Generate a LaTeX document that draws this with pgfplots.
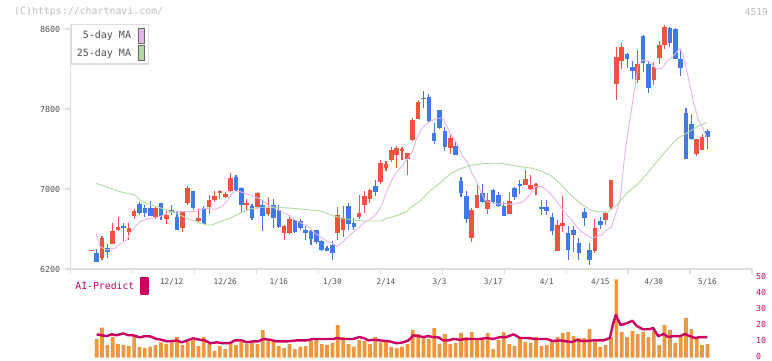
\documentclass[border=0pt]{standalone}
\usepackage{fontspec}
\setmainfont{DejaVu Sans Mono}
\usepackage{pgfplots}
\usepackage{pgfplotstable}
\pgfplotsset{compat=1.18}
\definecolor{cred}{RGB}{239,83,64}
\definecolor{cblue}{RGB}{64,122,232}
\definecolor{ma5}{RGB}{232,180,236}
\definecolor{ma25}{RGB}{178,218,160}
\definecolor{volc}{RGB}{240,150,62}
\definecolor{aic}{RGB}{204,0,96}
\definecolor{axg}{RGB}{222,222,222}
\definecolor{labg}{RGB}{80,80,80}
\definecolor{cpg}{RGB}{190,190,190}

% up (red) candles: x low high bodybottom bodytop
\pgfplotstableread{
x l h b t
0 6380 6390 6380 6390
2 6293 6530 6313 6510
4 6450 6660 6450 6580
5 6580 6720 6590 6620
7 6490 6660 6570 6610
8 6700 6800 6730 6780
12 6700 6820 6720 6810
14 6650 6780 6700 6740
17 6570 6780 6610 6780
18 6840 7030 6860 7010
20 6670 6800 6680 6710
22 6750 6940 6820 6890
23 6870 6980 6890 6930
24 6900 6990 6960 6980
25 6910 6970 6920 6950
26 6970 7160 6980 7110
29 6790 6900 6840 6860
31 6800 6970 6820 6960
33 6730 6920 6750 6810
36 6490 6640 6560 6630
37 6550 6740 6560 6700
46 6490 6820 6560 6740
47 6520 6830 6590 6710
50 6700 6940 6720 6760
51 6760 6980 6840 6930
52 6860 7000 6900 6990
54 7050 7290 7070 7260
55 7180 7280 7210 7250
56 7270 7420 7290 7390
57 7210 7430 7340 7410
58 7290 7420 7380 7400
59 7140 7360 7300 7360
60 7480 7710 7490 7690
61 7700 7890 7700 7870
67 7350 7550 7410 7510
71 6470 6810 6510 6790
72 6810 7040 6810 6940
74 6750 6960 6800 6890
78 6750 6970 6750 6880
81 7040 7190 7040 7100
82 6990 7140 7000 7040
83 6940 7060 7010 7050
87 6380 6690 6380 6640
88 6570 6930 6630 6660
94 6360 6700 6380 6610
96 6640 6770 6690 6760
97 6800 7090 6820 7090
98 7890 8420 8050 8320
99 8200 8460 8280 8420
102 8060 8390 8090 8250
105 8040 8270 8090 8220
106 8250 8480 8310 8440
107 8400 8640 8440 8620
113 7330 7500 7350 7500
114 7390 7550 7390 7520
}\upT

% down (blue) candles: x low high bodybottom bodytop
\pgfplotstableread{
x l h b t
1 6273 6400 6273 6360
3 6310 6450 6373 6410
6 6480 6660 6605 6625
9 6740 6870 6760 6850
10 6720 6840 6760 6810
11 6730 6880 6730 6810
13 6690 6860 6730 6860
15 6740 6840 6770 6790
16 6590 6780 6590 6720
19 6790 6980 6810 6980
21 6650 6830 6650 6810
27 6970 7140 6990 7120
28 6760 7020 6840 7010
30 6690 6850 6710 6830
32 6580 6890 6730 6840
34 6610 6900 6710 6840
35 6610 6840 6620 6790
38 6560 6690 6570 6690
39 6590 6700 6610 6680
40 6490 6630 6560 6590
41 6440 6590 6500 6580
42 6450 6590 6470 6590
43 6380 6490 6390 6480
44 6375 6430 6380 6410
45 6290 6480 6360 6440
48 6590 6860 6650 6830
49 6590 6710 6620 6660
53 6930 7090 6970 7030
62 7810 7980 7895 7910
63 7660 7950 7680 7920
64 7450 7660 7480 7560
65 7600 7790 7610 7790
66 7380 7620 7420 7580
68 7340 7470 7340 7430
69 6920 7120 6960 7080
70 6660 6980 6700 6930
73 6860 7050 6870 6960
75 6860 7000 6870 6990
76 6820 6970 6830 6940
77 6730 6870 6730 6830
79 6890 7020 6920 7010
80 6950 7090 7030 7050
84 6740 6890 6800 6820
85 6740 6890 6780 6820
86 6540 6760 6580 6720
89 6290 6630 6390 6560
90 6370 6630 6540 6590
91 6290 6510 6360 6460
92 6630 6810 6710 6770
93 6240 6460 6290 6390
95 6600 6720 6640 6680
100 8210 8360 8300 8350
101 8100 8280 8180 8220
103 8170 8540 8260 8530
104 7960 8270 8010 8250
108 8420 8620 8460 8610
109 8300 8610 8300 8600
110 8130 8400 8210 8300
111 7300 7810 7300 7760
112 7490 7750 7500 7650
115 7400 7600 7520 7580
}\downT

\begin{document}
\begin{tikzpicture}[x=1pt,y=1pt]
\path[use as bounding box] (0,0) rectangle (772,361);
\node[anchor=west, text=cpg, font=\fontsize{9.9}{11}\selectfont, inner sep=0pt] at (14,349) {(C)https://chartnavi.com/};
\node[anchor=east, text=cpg, font=\fontsize{9.5}{11}\selectfont, inner sep=0pt] at (768,349) {4519};

% ---------------- price panel ----------------
\begin{axis}[
  at={(70.7pt,92pt)}, anchor=south west,
  scale only axis, width=681.3pt, height=245pt,
  xmin=-3.845, xmax=123.318, ymin=6200, ymax=8650,
  enlargelimits=false,
  axis x line*=bottom, axis y line*=left,
  axis line style={draw=axg, line width=1.3pt},
  tick style={draw=axg, line width=1.3pt},
  tick align=outside,
  major tick length=5.5pt,
  xtick={-3.845,7.716,19.276,30.836,42.396,53.957,65.517,77.077,88.637,100.197,111.758,123.318},
  xticklabels={},
  extra x ticks={15,25,35,45,55,65,75,85,95,105,115},
  extra x tick labels={12/12,12/26,1/16,1/30,2/14,3/3,3/17,4/1,4/15,4/30,5/16},
  extra x tick style={major tick length=0pt, tick style={draw=none},
     xticklabel style={font=\fontsize{7.7}{9}\selectfont, text=labg, inner sep=0pt, anchor=north, yshift=-10pt}},
  ytick={6200,7000,7800,8600},
  yticklabels={6200,7000,7800,8600},
  yticklabel style={font=\fontsize{8.3}{9}\selectfont, text=labg, inner sep=0pt, anchor=east, xshift=-5pt},
  /pgf/number format/assume math mode=true,
  legend style={at={(0,1)}, anchor=north west, draw=axg, line width=1.3pt, fill=white,
     inner xsep=4pt, inner ysep=3pt, row sep=1.5pt, column sep=5pt,
     font=\fontsize{10}{11}\selectfont, text=labg, nodes={inner sep=1.5pt}},
  legend plot pos=right, legend cell align=right,
]
% wicks
\addplot[draw=none, mark=none, forget plot,
  error bars/.cd, y dir=plus, y explicit, error mark=none,
  error bar style={draw=cred, line width=1.1pt}]
  table[x=x, y=l, y error expr=\thisrow{h}-\thisrow{l}] {\upT};
\addplot[draw=none, mark=none, forget plot,
  error bars/.cd, y dir=plus, y explicit, error mark=none,
  error bar style={draw=cblue, line width=1.1pt}]
  table[x=x, y=l, y error expr=\thisrow{h}-\thisrow{l}] {\downT};
% bodies
\addplot[draw=none, mark=none, forget plot,
  error bars/.cd, y dir=plus, y explicit, error mark=none,
  error bar style={draw=cred, line width=4.6pt}]
  table[x=x, y=b, y error expr=\thisrow{t}-\thisrow{b}] {\upT};
\addplot[draw=none, mark=none, forget plot,
  error bars/.cd, y dir=plus, y explicit, error mark=none,
  error bar style={draw=cblue, line width=4.6pt}]
  table[x=x, y=b, y error expr=\thisrow{t}-\thisrow{b}] {\downT};
% 5-day MA
\addplot[ma5, line width=0.9pt, mark=none,
  legend image code/.code={\draw[draw=black!60, line width=0.9pt, fill=ma5] (0pt,-7.5pt) rectangle (6pt,7.5pt);}]
coordinates {
(0.88,6563) (1.62,6423) (2.87,6390) (4.42,6407) (5.36,6450) (6.61,6490) (7.22,6557) (8.16,6623) (9.09,6673) (10.34,6700) (11.27,6707) (12.84,6723) (14.07,6757) (15.62,6773) (17.11,6773) (19.35,6773) (21.22,6807) (23.09,6797) (24.34,6823) (25.51,6890) (26.45,6967) (27.38,6980) (28.69,6957) (30.55,6923) (31.8,6890) (32.98,6840) (34.28,6807) (35.54,6773) (36.71,6740) (38.02,6690) (39.27,6657) (40.44,6630) (41.38,6573) (42.68,6523) (43.93,6480) (45.11,6457) (45.8,6423) (46.98,6473) (48.29,6540) (49.78,6607) (51.08,6673) (52.33,6707) (53.51,6773) (54.2,6840) (55.13,6973) (56.07,7090) (57,7173) (58.17,7240) (59.11,7307) (60.04,7390) (60.73,7507) (61.91,7623) (63.2,7673) (64.46,7707) (65.64,7707) (66.95,7557) (68.2,7457) (69.38,7323) (70.31,7260) (71,7160) (71.7,7100) (72.6,6990) (73.5,6885) (74.7,6860) (75.9,6850) (77.2,6855) (78.5,6845) (79.6,6857) (80.6,6873) (81.8,6940) (82.8,7023) (84.1,7023) (85,6990) (85.9,6940) (86.9,6873) (87.8,6807) (88.7,6740) (89.7,6690) (90.6,6623) (91.5,6573) (92.5,6540) (93.4,6507) (94.3,6523) (95.3,6540) (96.2,6590) (97.1,6623) (97.7,6723) (98.7,6890) (99.6,7357) (100.6,7723) (101.5,8023) (102.1,8257) (103,8290) (104.2,8273) (105.5,8200) (106.5,8207) (107.4,8273) (108.6,8330) (109.9,8407) (110.5,8323) (111.4,8123) (112.4,7865) (113.3,7690) (114.3,7590) (114.9,7507)
};
\addlegendentry{5-day MA}
% 25-day MA
\addplot[ma25, line width=0.9pt, mark=none,
  legend image code/.code={\draw[draw=black!60, line width=0.9pt, fill=ma25] (0pt,-7.5pt) rectangle (6pt,7.5pt);}]
coordinates {
(0.88,7057) (3.49,7007) (5.36,6973) (7.22,6950) (8.16,6940) (9.09,6890) (10.34,6857) (12.21,6823) (14.07,6790) (15.94,6757) (17.81,6707) (19.67,6673) (21.54,6640) (22.47,6640) (24.02,6673) (25.89,6707) (27.75,6757) (29.62,6800) (31.49,6817) (33.35,6820) (35.22,6815) (37.64,6807) (39.51,6797) (40.82,6790) (42.68,6780) (43.93,6757) (45.11,6733) (46.98,6707) (48.84,6690) (50.71,6680) (52.57,6680) (54.2,6680) (55.13,6707) (57,6733) (58.87,6773) (59.5,6810) (61.35,6880) (63.2,6980) (65.1,7060) (66.95,7150) (68.8,7200) (70.7,7235) (72.6,7250) (74.4,7257) (76.3,7257) (78.2,7240) (80.1,7223) (82.4,7207) (83.7,7185) (85.6,7140) (87.5,7055) (89.3,6950) (91.2,6860) (93.1,6790) (94.6,6773) (96.4,6770) (98.1,6840) (99.9,6957) (101.8,7040) (103.7,7150) (105.5,7270) (107.4,7390) (109.3,7500) (111.1,7557) (113,7620) (114.9,7668)
};
\addlegendentry{25-day MA}
\end{axis}

% ---------------- volume / AI panel ----------------
\begin{axis}[
  at={(70.7pt,3.3pt)}, anchor=south west,
  scale only axis, width=681.3pt, height=80pt,
  xmin=-3.845, xmax=123.318, ymin=0, ymax=50,
  enlargelimits=false,
  axis line style={draw=none},
  major tick length=0pt, tick style={draw=none},
  xtick=\empty,
  ytick={0,10,20,30,40,50},
  yticklabels={0,10,20,30,40,50},
  yticklabel pos=right,
  yticklabel style={font=\fontsize{8.3}{9}\selectfont, text=aic, inner sep=0pt, anchor=west, xshift=4pt, yshift=1.2pt},
  /pgf/number format/assume math mode=true,
  legend style={at={(0,1)}, anchor=north west, draw=none, fill=none,
     inner xsep=0pt, inner ysep=0pt, xshift=3pt, yshift=1pt, column sep=4pt,
     font=\fontsize{9.8}{11}\selectfont, text=aic, nodes={inner sep=1.5pt}},
  legend plot pos=right,
]
\addplot[ybar, bar width=3.7pt, fill=volc, draw=none, forget plot] coordinates {
(1,11.7) (2,18.75) (3,7.9) (4,12.9) (5,8.5) (6,7.9) (7,7.3) (8,13.5) (9,6.7) (10,6.0)
(11,6.9) (12,7.9) (13,9.6) (14,8.5) (15,9.6) (16,12.9) (17,7.9) (18,10) (19,11) (20,7.3)
(21,12.9) (22,8.5) (23,4.2) (24,7.3) (25,5.4) (26,9.6) (27,7.9) (28,10) (29,8.5) (30,9.6)
(31,8.5) (32,17.3) (33,10.4) (34,10) (35,7.3) (36,6) (37,8.5) (38,5.4) (39,6.9) (40,7.3)
(41,10.4) (42,11.7) (43,8.5) (44,7.9) (45,9.2) (46,20.4) (47,12.9) (48,8.5) (49,6.9) (50,11)
(51,10.4) (52,8.5) (53,12.9) (54,9.6) (55,10) (56,6.7) (57,6) (58,6.7) (59,8.5) (60,17.3)
(61,14.8) (62,12.9) (63,11.7) (64,18.5) (65,8.5) (66,14.8) (67,8.5) (68,9.2) (69,15.4) (70,12.9)
(71,16) (72,12.3) (73,11.7) (74,15.4) (75,5.4) (76,11) (77,16) (78,8.5) (79,7.3) (80,12.3)
(81,9.8) (82,9.2) (83,12.9) (84,7.3) (85,7.9) (86,11) (87,12.9) (88,15.4) (89,16) (90,13.5)
(91,12.3) (92,12.3) (93,17.9) (94,9.8) (95,6.7) (96,7.9) (97,12.9) (98,49) (99,16) (100,12.9)
(101,16.7) (102,14.8) (103,16) (104,12.9) (105,16.7) (106,7.9) (107,20.4) (108,17.3) (109,9.2) (110,12.9)
(111,24.8) (112,17.9) (113,12.9) (114,7.9) (115,8.5)
};
\addplot[aic, line width=2.4pt, line join=round, mark=none,
  legend image code/.code={\fill[aic] (0pt,-8pt) rectangle (7pt,8pt);}]
coordinates {
(1.0,14.6) (1.9,14) (2.9,13.5) (3.8,14.6) (4.7,14) (6.0,15.2) (6.9,14) (7.8,14) (9.1,12.7) (10.0,13.5) (11.0,13.3) (12.2,11.7) (13.1,11.2) (14.1,10.2) (15.3,10.4) (15.9,10.8) (16.9,9.6) (18.1,11) (19.0,12.1) (20.3,11.2) (21.2,10.8) (22.2,9) (23.4,9.6) (24.6,9) (25.9,9.2) (26.8,10.8) (28.1,10.8) (29.0,9.6) (30.2,10.2) (31.2,10.2) (32.1,11.7) (33.4,11.2) (34.6,10.2) (36.5,10.2) (38.3,10.8) (40.2,10.8) (41.4,11.7) (45.2,11.7) (45.8,12.3) (47.0,11.7) (48.9,11.7) (50.0,12.9) (50.8,12.3) (51.7,10.8) (52.6,11.2) (53.9,10.8) (55.7,10.2) (57.0,9) (58.2,9.6) (59.2,10.8) (60.1,14) (61.0,13.5) (62.0,12.9) (62.9,13.5) (63.8,12.9) (64.8,12.7) (65.7,10.8) (66.6,10.8) (67.6,11.7) (68.8,11.2) (70.1,11.7) (72.5,11.7) (73.8,12.3) (75.0,11.7) (76.3,12.9) (77.5,12.9) (78.8,14.6) (80.0,12.3) (81.3,12.3) (83.1,11.7) (85.0,11.7) (86.2,10.4) (87.5,10.8) (88.7,10.2) (89.7,9.8) (90.6,11) (91.8,10.4) (93.7,10.8) (95.6,10.8) (96.8,12.3) (97.4,21.5) (97.9,26.7) (98.8,20.4) (99.9,21.5) (101.0,23.1) (101.8,19.8) (103.0,17.7) (104.3,17.9) (104.9,18.5) (105.8,13.5) (106.8,14.8) (107.7,12.9) (108.6,13.5) (109.9,13.5) (110.8,14.8) (111.7,13.5) (112.7,12.3) (113.6,12.9) (115.0,12.9)
};
\addlegendentry{AI-Predict}
\end{axis}
\end{tikzpicture}
\end{document}
